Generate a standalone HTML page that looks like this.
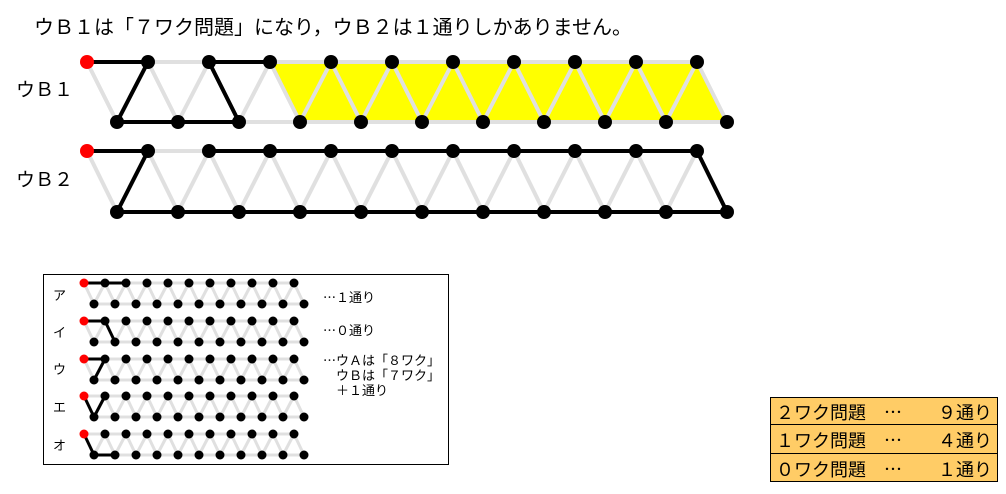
<!DOCTYPE html>
<html><head><meta charset="utf-8"><style>
body{margin:0;background:#fff;width:1006px;height:494px;overflow:hidden;position:relative;font-family:"Liberation Sans","Noto Sans CJK JP",sans-serif;}
.t{position:absolute;white-space:nowrap;color:#000;}
</style></head><body>
<svg id="s" width="1006" height="494" style="position:absolute;left:0;top:0">
<polygon points="270,62 697,62 727,122 300,122" fill="#ffff00"/>
<g id="g"></g>
<rect x="43.5" y="274.5" width="405" height="190" fill="none" stroke="#000" stroke-width="1"/>
<rect x="770.5" y="397.5" width="227" height="84" fill="#ffcc66" stroke="#000" stroke-width="1"/>
<line x1="770" y1="424.5" x2="998" y2="424.5" stroke="#000"/>
<line x1="770" y1="453.5" x2="998" y2="453.5" stroke="#000"/>
</svg>
<div class="t" style="left:34px;top:11px;font-size:20px;">ウＢ１は「７ワク問題」になり，ウＢ２は１通りしかありません。</div>
<div class="t" style="left:16px;top:75px;font-size:19px;">ウＢ１</div>
<div class="t" style="left:16px;top:165px;font-size:19px;">ウＢ２</div>
<div class="t" style="left:53px;top:285px;font-size:13px;">ア</div>
<div class="t" style="left:53px;top:322px;font-size:13px;">イ</div>
<div class="t" style="left:53px;top:359px;font-size:13px;">ウ</div>
<div class="t" style="left:53px;top:397px;font-size:13px;">エ</div>
<div class="t" style="left:53px;top:435px;font-size:13px;">オ</div>
<div class="t" style="left:323px;top:287px;font-size:13px;">⋯１通り</div>
<div class="t" style="left:323px;top:320px;font-size:13px;">⋯０通り</div>
<div class="t" style="left:323px;top:353px;font-size:13px;line-height:15px;">⋯ウＡは「８ワク」<br>　ウＢは「７ワク」<br>　＋１通り</div>
<div class="t" style="left:776px;top:399px;font-size:18px;">２ワク問題　⋯　　９通り</div>
<div class="t" style="left:776px;top:427px;font-size:18px;">１ワク問題　⋯　　４通り</div>
<div class="t" style="left:776px;top:456px;font-size:18px;">０ワク問題　⋯　　１通り</div>
<script>
var g=document.getElementById('g'),h='';
function L(a,b,c,d,col,w){h+='<line x1="'+a+'" y1="'+b+'" x2="'+c+'" y2="'+d+'" stroke="'+col+'" stroke-width="'+w+'" stroke-linecap="round"/>';}
function C(x,y,r,col){h+='<circle cx="'+x+'" cy="'+y+'" r="'+r+'" fill="'+col+'"/>';}
function grid(x0,dx,off,yt,yb,gw,r,black){
 var T=[],B=[];for(var i=0;i<11;i++){T.push(x0+i*dx);B.push(x0+off+i*dx);}
 L(T[0],yt,T[10],yt,'#e0e0e0',gw);L(B[0],yb,B[10],yb,'#e0e0e0',gw);
 for(i=0;i<11;i++){L(T[i],yt,B[i],yb,'#e0e0e0',gw);if(i<10)L(B[i],yb,T[i+1],yt,'#e0e0e0',gw);}
 black.forEach(function(s){var p=s[0]=='t'?[T[s[1]],yt]:[B[s[1]],yb],q=s[2]=='t'?[T[s[3]],yt]:[B[s[3]],yb];L(p[0],p[1],q[0],q[1],'#000',gw);});
 for(i=0;i<11;i++){C(T[i],yt,r,i==0?'#f00':'#000');C(B[i],yb,r,'#000');}
}
grid(87,61,30,62,122,4,7,[['t',0,'t',1],['t',1,'b',0],['b',0,'b',2],['b',2,'t',2],['t',2,'t',3]]);
grid(87,61,30,151,212,4,7,[['t',0,'t',1],['t',1,'b',0],['b',0,'b',10],['b',10,'t',10],['t',10,'t',2]]);
grid(84,21,10,283,304,3,4.5,[['t',0,'t',2]]);
grid(84,21,10,321,342,3,4.5,[['t',0,'t',1],['t',1,'b',1]]);
grid(84,21,10,359,380,3,4.5,[['t',0,'t',1],['t',1,'b',0]]);
grid(84,21,10,396,417,3,4.5,[['t',0,'b',0],['b',0,'t',1]]);
grid(84,21,10,434,455,3,4.5,[['t',0,'b',0],['b',0,'b',1]]);
g.innerHTML=h;
</script>
</body></html>
